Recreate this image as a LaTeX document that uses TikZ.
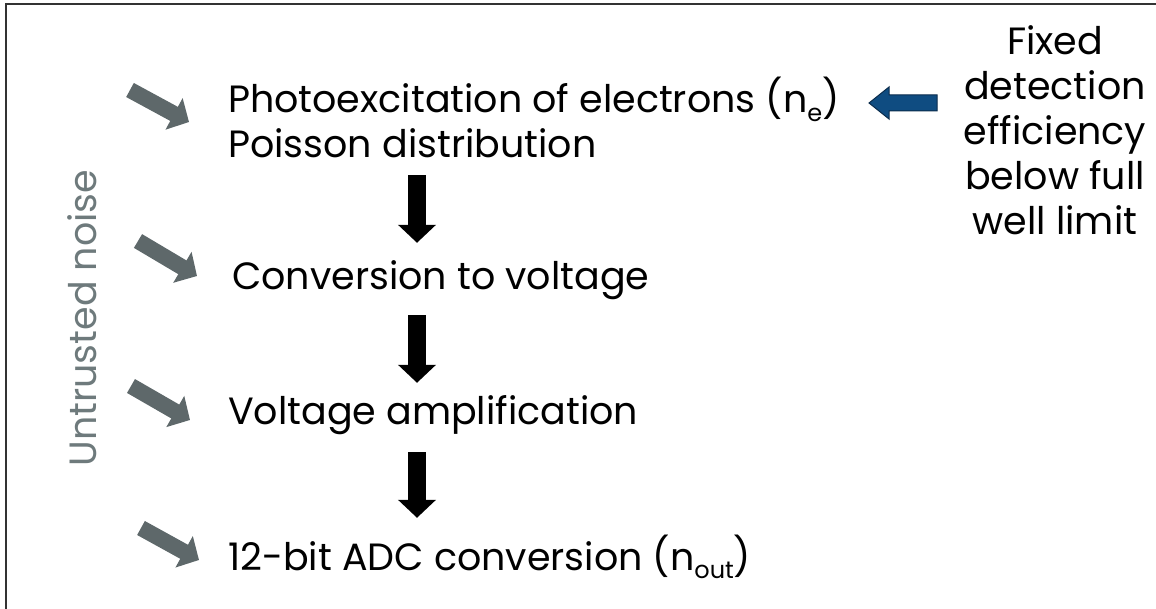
\documentclass[tikz,border=0pt]{standalone}
\usepackage{fontspec}
\setmainfont{Poppins}
\usetikzlibrary{arrows.meta}
\definecolor{noisegray}{HTML}{5E686A}
\definecolor{labelgray}{HTML}{6E7A7C}
\definecolor{effblue}{HTML}{0F4C81}
\definecolor{effedge}{HTML}{0A2C4C}
\definecolor{framegray}{HTML}{333333}
\newcommand{\lowsub}[1]{\raisebox{-0.22em}{\fontsize{24}{24}\selectfont #1}}

\begin{document}
\begin{tikzpicture}[
    x=1pt, y=-1pt,
    every node/.style={inner sep=0pt, font=\fontsize{38}{45}\selectfont},
    stage/.style={anchor=base west, text height=28pt, text depth=10pt},
    flow/.style={line width=18pt, -{Triangle[length=18pt, width=37pt]}},
    noise/.style={noisegray, line width=16pt, -{Triangle[length=17pt, width=35pt]}}
  ]
    \useasboundingbox (0,0) rectangle (1156,609);
    \draw[framegray, line width=2pt] (6,620) -- (6,4) -- (1170,4);

    \node[stage] (photo) at (228,113) {Photoexcitation of electrons (n\lowsub{e})};
    \node[stage] (poisson) at (228,158) {Poisson distribution};
    \node[stage] (conv) at (232,290) {Conversion to voltage};
    \node[stage] (amp) at (228,424) {Voltage amplification};
    \node[stage] (adc) at (228,570) {12-bit ADC conversion (n\lowsub{out})};

    \node[align=center] (fixed) at (1055,130) {Fixed\\detection\\efficiency\\below full\\well limit};
    \node[labelgray, rotate=90, anchor=base] (untrusted) at (96,318) {Untrusted noise};

    % main chain
    \coordinate (ax) at (417,0);
    \draw[flow, shorten <=7pt, shorten >=19pt] (poisson.south -| ax) -- (conv.north -| ax);
    \draw[flow, shorten <=15pt, shorten >=13pt] (conv.south -| ax) -- (amp.north -| ax);
    \draw[flow, shorten <=18pt, shorten >=24pt] (amp.south -| ax) -- (adc.north -| ax);

    % detection efficiency
    \coordinate (efftip) at (869,103);
    \draw[fill=effblue, draw=effedge, line width=1pt] (efftip) -- ++(20,-16) -- ++(0,8) -- ++(48,0)
      -- ++(0,16) -- ++(-48,0) -- ++(0,8) -- cycle;

    % noise entering each stage
    \coordinate (n1a) at (130,90);  \coordinate (n1b) at (189,122);
    \coordinate (n2a) at (138,241); \coordinate (n2b) at (197,276);
    \coordinate (n3a) at (131,386); \coordinate (n3b) at (190,420);
    \coordinate (n4a) at (141,528); \coordinate (n4b) at (199,560);
    \draw[noise] (n1a) -- (n1b);
    \draw[noise] (n2a) -- (n2b);
    \draw[noise] (n3a) -- (n3b);
    \draw[noise] (n4a) -- (n4b);
  \end{tikzpicture}
\end{document}
